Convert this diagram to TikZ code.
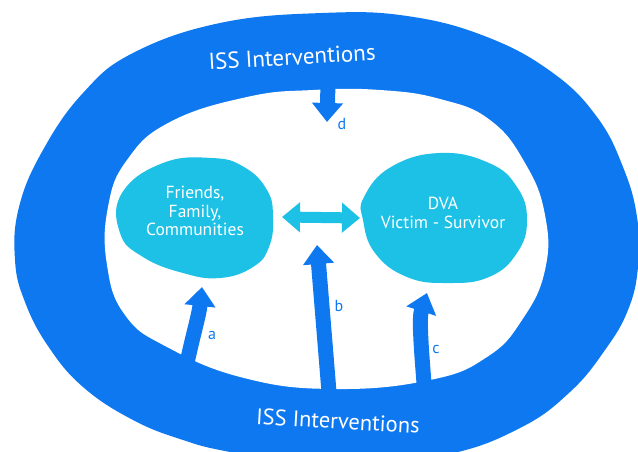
\documentclass[tikz,border=0pt]{standalone}
\usepackage{fontspec}
\setmainfont{PT Sans}
\usetikzlibrary{arrows.meta}
\definecolor{ringblue}{RGB}{14,120,240}
\definecolor{blobcyan}{RGB}{28,193,229}
\tikzset{
  ringtext/.style={text=white, font=\fontsize{23}{26}\selectfont},
  blobtext/.style={text=white, align=center, font=\fontsize{17.5}{18.5}\selectfont},
  lbl/.style={text=ringblue, font=\fontsize{16}{18}\selectfont},
  bluearrow/.style={draw=ringblue, line width=15pt, -{Triangle[width=30pt,length=19pt]}},
  cyanarrow/.style={draw=blobcyan, line width=11pt, {Triangle[width=29pt,length=18pt]}-{Triangle[width=29pt,length=18pt]}},
}
\begin{document}
\begin{tikzpicture}[x=1pt,y=-1pt]
\useasboundingbox (0,0) rectangle (638,452);
\fill[white] (0,0) rectangle (638,452);
\clip (0,0) rectangle (638,452);
% outer ring
\fill[ringblue] plot[smooth cycle, tension=0.7] coordinates {
 (322,13) (407,16) (487,37) (553,73) (597,117) (623,167) (637,217)
 (638,267) (628,310) (605,350) (570,392) (520,428) (445,455) (330,469)
 (230,452) (183,440) (133,420) (83,387) (48,346) (25,302) (15,260)
 (19,207) (43,150) (83,93) (133,53) (220,23)};
\fill[white] plot[smooth cycle, tension=0.75] coordinates {
 (313,90) (380,90) (440,99) (490,120) (525,163) (545,215) (545,270)
 (522,320) (487,357) (430,380) (334,389) (244,378) (167,347) (125,315)
 (107,265) (108,207) (127,160) (170,122) (247,97)};
% blobs
\fill[blobcyan] plot[smooth cycle, tension=0.75] coordinates {
 (122,193) (163,163) (212,158) (244,167) (267,190) (273,217) (269,247)
 (253,267) (220,278) (183,273) (143,257) (120,233)};
\fill[blobcyan] plot[smooth cycle, tension=0.75] coordinates {
 (364,197) (391,167) (440,153) (489,163) (517,187) (527,220) (517,253)
 (489,277) (448,283) (407,277) (375,253) (363,220)};
\node[blobtext] (friends) at (195,211) {Friends,\\Family,\\Communities};
\node[blobtext] (dva) at (443,213) {DVA\\Victim - Survivor};
% ring labels
\node[ringtext, rotate=3.4] (isstop) at (292,57) {ISS Interventions};
\node[ringtext, font=\fontsize{22.5}{25}\selectfont, rotate=-3.2] (issbot) at (338,421) {ISS Interventions};
% arrow end points
\coordinate (dstart) at (328,84);
\coordinate (dtip) at (327,122);
\coordinate (bstart) at (329,392);
\coordinate (btip) at (317,245);
\coordinate (astart) at (187,363);
\coordinate (atip) at (202,287);
\coordinate (cstart) at (424,383);
\coordinate (ctip) at (427,293);
\coordinate (lefttip) at (282,217);
\coordinate (righttip) at (360,218);
\draw[bluearrow] (dstart) -- (dtip);
\draw[bluearrow] (bstart) -- (btip);
\draw[bluearrow] (astart) .. controls (193,335) and (199,315) .. (atip);
\draw[bluearrow] (cstart) .. controls (421,345) and (419,318) .. (ctip);
\draw[cyanarrow] (lefttip) -- (righttip);
% letters
\node[lbl] (la) at (212,335) {a};
\node[lbl] (lb) at (339,306) {b};
\node[lbl] (lc) at (436,349) {c};
\node[lbl] (ld) at (342,124) {d};
\end{tikzpicture}
\end{document}
